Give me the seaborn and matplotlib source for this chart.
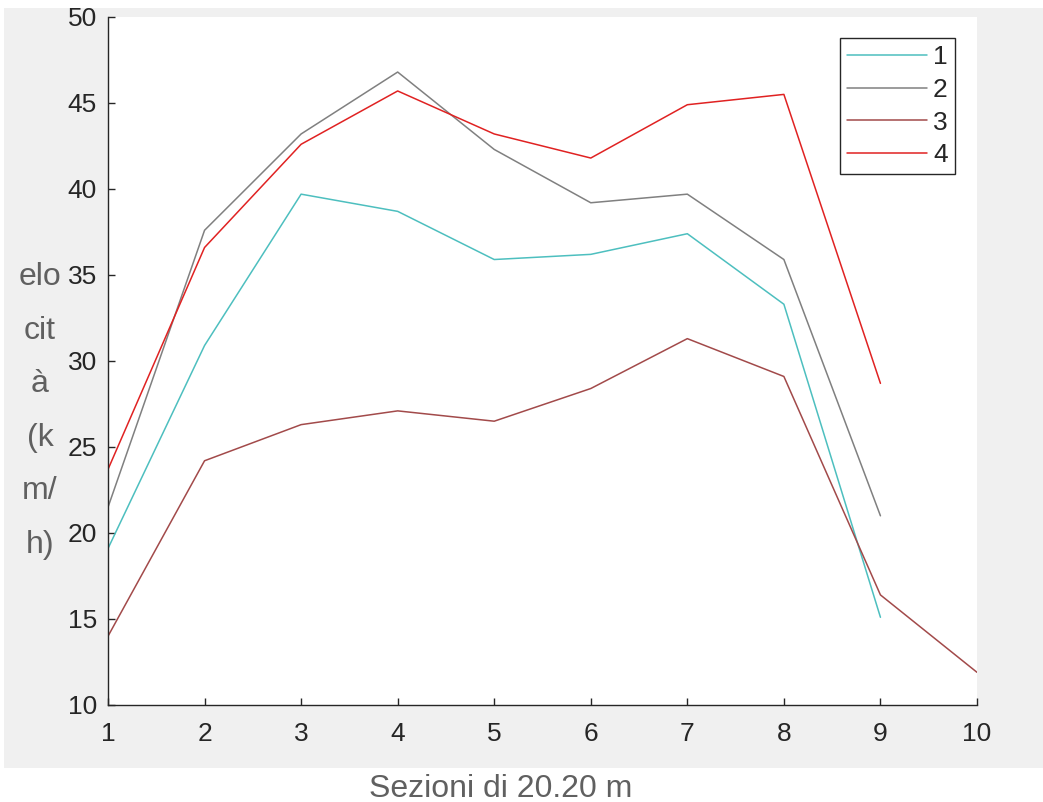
import numpy as np
import pandas as pd
import seaborn as sns
import matplotlib.pyplot as plt
from matplotlib.patches import Rectangle

# values
sections = [1, 2, 3, 4, 5, 6, 7, 8, 9, 10]
serie_1 = [19.1, 30.9, 39.7, 38.7, 35.9, 36.2, 37.4, 33.3, 15.1]
serie_2 = [21.5, 37.6, 43.2, 46.8, 42.3, 39.2, 39.7, 35.9, 21.0]
serie_3 = [14.0, 24.2, 26.3, 27.1, 26.5, 28.4, 31.3, 29.1, 16.4, 11.9]
serie_4 = [23.7, 36.6, 42.6, 45.7, 43.2, 41.8, 44.9, 45.5, 28.7]
labels = ["1", "2", "3", "4"]
colors = ["#4dbfbf", "#808080", "#a24a4a", "#e02222"]

rows = []
for lab, vals in zip(labels, [serie_1, serie_2, serie_3, serie_4]):
    for x, v in zip(sections, vals):
        rows.append({"sezione": x, "velocita": v, "serie": lab})
df = pd.DataFrame(rows)

sns.set_style("ticks")
plt.rcParams["font.family"] = ["Liberation Sans", "DejaVu Sans"]

fig = plt.figure(figsize=(10.43, 8.02), dpi=100, facecolor="white")
# grey figure panel like the matlab window
fig.patches.append(Rectangle((4 / 1043, 1 - 768 / 802), 1, (768 - 8) / 802,
                             transform=fig.transFigure, facecolor="#f0f0f0",
                             edgecolor="none", zorder=-10))

ax = fig.add_axes([108 / 1043, 1 - 705 / 802, (977 - 108) / 1043, (705 - 17) / 802])
ax.set_facecolor("white")

sns.lineplot(data=df, x="sezione", y="velocita", hue="serie",
             palette=dict(zip(labels, colors)), linewidth=1.1, ax=ax)

ax.set_xlim(1, 10)
ax.set_ylim(10, 50)
ax.set_xticks(sections)
ax.set_yticks(np.arange(10, 51, 5))
ax.tick_params(direction="in", length=5, width=1, colors="#262626",
               labelsize=19)
ax.tick_params(axis="x", pad=12)
ax.tick_params(axis="y", pad=8)
for s in ["top", "right"]:
    ax.spines[s].set_visible(False)
for s in ["left", "bottom"]:
    ax.spines[s].set_color("#262626")
    ax.spines[s].set_linewidth(1)

ax.set_xlabel("")
ax.set_ylabel("")
fig.text(501 / 1043, 1 - 789 / 802, "Sezioni di 20.20 m", ha="center",
         va="center", fontsize=23, color="#606060")
fig.text(40 / 1043, 1 - 411 / 802, "elo\ncit\nà\n(k\nm/\nh)", ha="center",
         va="center", fontsize=23, color="#606060", linespacing=2.02)

leg = ax.legend(loc="upper right", bbox_to_anchor=((955 - 108) / 869, (705 - 38) / 688),
                fontsize=19, frameon=True, fancybox=False, framealpha=1,
                edgecolor="#262626", handlelength=3.0, handletextpad=0.25,
                labelspacing=0.33, borderpad=0.27, borderaxespad=0, title=None)
leg.get_frame().set_linewidth(1)

fig.savefig("out.png", dpi=100, facecolor=fig.get_facecolor())
